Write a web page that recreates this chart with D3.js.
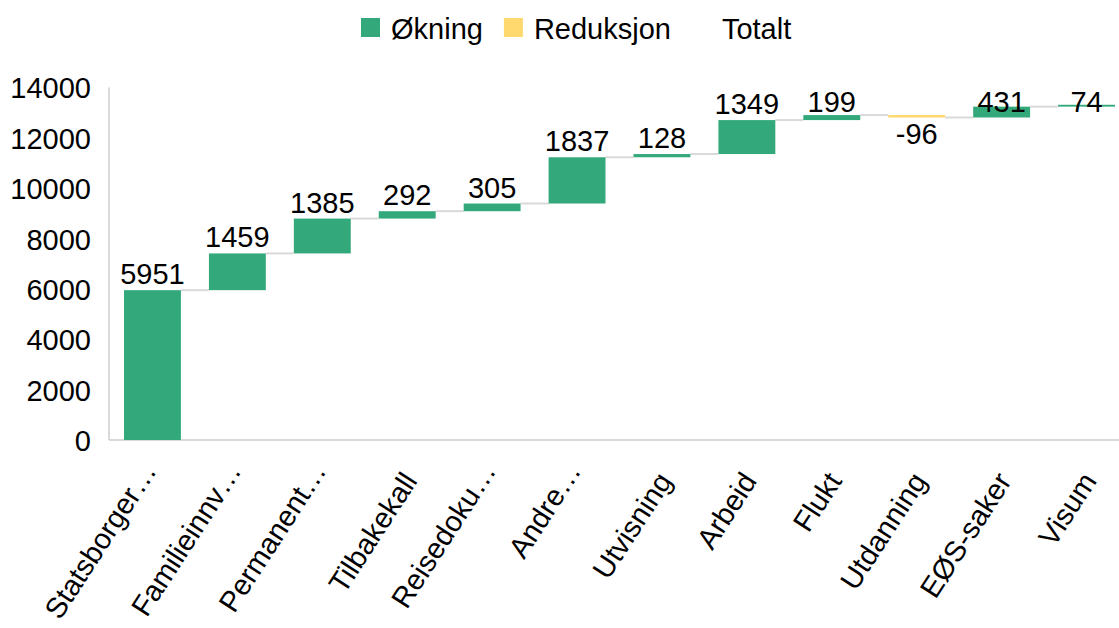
<!DOCTYPE html>
<html>
  <head>
    <meta charset="utf-8">
    <title>Waterfall</title>
    <script src="https://d3js.org/d3.v7.min.js"></script>
    <style>
      body { margin: 0; background: #fff; }
      svg text { font-family: "Liberation Sans", Arial, sans-serif; fill: #000; }
    </style>
  </head>
  <body>
    <svg id="chart" width="1119" height="628"></svg>

    <script>
      // data
      var categories = ["Statsborger…", "Familieinnv…", "Permanent…", "Tilbakekall", "Reisedoku…", "Andre…",
                        "Utvisning", "Arbeid", "Flukt", "Utdanning", "EØS-saker", "Visum"];
      var changes = [5951, 1459, 1385, 292, 305, 1837, 128, 1349, 199, -96, 431, 74];
      var yTicks = [0, 2000, 4000, 6000, 8000, 10000, 12000, 14000];
      var legendLabels = ["Økning", "Reduksjon", "Totalt"];

      var green = "#33a97b", yellow = "#ffd86e", grey = "#d9d9d9";
      var fontSize = 29;

      var svg = d3.select("#chart");

      var x = d3.scaleBand()
          .domain(categories)
          .range([110, 1129])
          .paddingInner(0.33)
          .paddingOuter(0.165);

      var y = d3.scaleLinear()
          .domain([0, 14000])
          .range([440, 87.5]);

      // running totals
      var rows = [];
      var total = 0;
      categories.forEach(function(c, i) {
        var start = total;
        total += changes[i];
        rows.push({ cat: c, value: changes[i], start: start, end: total });
      });

      // axis lines
      svg.append("line")
        .attr("x1", 109).attr("x2", 1119)
        .attr("y1", y(0)).attr("y2", y(0))
        .style("stroke", grey).style("stroke-width", 2);
      svg.append("line")
        .attr("x1", 109).attr("x2", 109)
        .attr("y1", y(14000)).attr("y2", y(0))
        .style("stroke", grey).style("stroke-width", 2);

      // y tick labels
      var yAxis = svg.append("g")
        .attr("transform", "translate(109,0)")
        .call(d3.axisLeft(y).tickValues(yTicks).tickSize(0).tickPadding(18).tickFormat(d3.format("d")));
      yAxis.select(".domain").remove();
      yAxis.selectAll("text")
        .attr("dy", "0.36em")
        .style("font-size", fontSize + "px")
        .style("font-family", "Liberation Sans, Arial, sans-serif")
        .attr("fill", "#000");

      // connectors
      svg.append("g")
        .selectAll("line")
        .data(rows.slice(0, rows.length - 1))
        .enter()
        .append("line")
        .attr("x1", (d) => x(d.cat) + x.bandwidth())
        .attr("x2", (d, i) => x(categories[i + 1]))
        .attr("y1", (d) => y(d.end))
        .attr("y2", (d) => y(d.end))
        .style("stroke", grey)
        .style("stroke-width", 2);

      // bars
      svg.append("g")
        .selectAll("rect")
        .data(rows)
        .enter()
        .append("rect")
        .attr("x", (d) => x(d.cat))
        .attr("width", x.bandwidth())
        .attr("y", (d) => y(Math.max(d.start, d.end)))
        .attr("height", (d) => Math.abs(y(d.start) - y(d.end)))
        .style("fill", (d) => d.value >= 0 ? green : yellow);

      // value labels, kept inside the plot at the top
      svg.append("g")
        .selectAll("text")
        .data(rows)
        .enter()
        .append("text")
        .attr("x", (d) => x(d.cat) + x.bandwidth() / 2)
        .attr("y", function(d) {
          if (d.value < 0) return y(Math.min(d.start, d.end)) + 27;
          return Math.max(y(d.end) - 6, 112);
        })
        .attr("text-anchor", "middle")
        .style("font-size", fontSize + "px")
        .text((d) => d.value);

      // category labels, rotated
      svg.append("g")
        .selectAll("text")
        .data(categories)
        .enter()
        .append("text")
        .attr("transform", function(d) {
          var cut = d.endsWith("…");
          var cx = x(d) + x.bandwidth() / 2 + (cut ? 5 : 11);
          return "translate(" + cx + "," + (cut ? 471 : 481) + ") rotate(-57)";
        })
        .attr("text-anchor", "end")
        .style("font-size", fontSize + "px")
        .text((d) => d);

      // legend
      var legendColors = [green, yellow, "none"];
      var lx = 361;
      legendLabels.forEach(function(lab, i) {
        svg.append("rect")
          .attr("x", lx).attr("y", 18)
          .attr("width", 19).attr("height", 19)
          .style("fill", legendColors[i]);
        var t = svg.append("text")
          .attr("x", lx + 30).attr("y", 39)
          .style("font-size", fontSize + "px")
          .text(lab);
        lx += 30 + t.node().getComputedTextLength() + 21;
      });
    </script>
  </body>
</html>
